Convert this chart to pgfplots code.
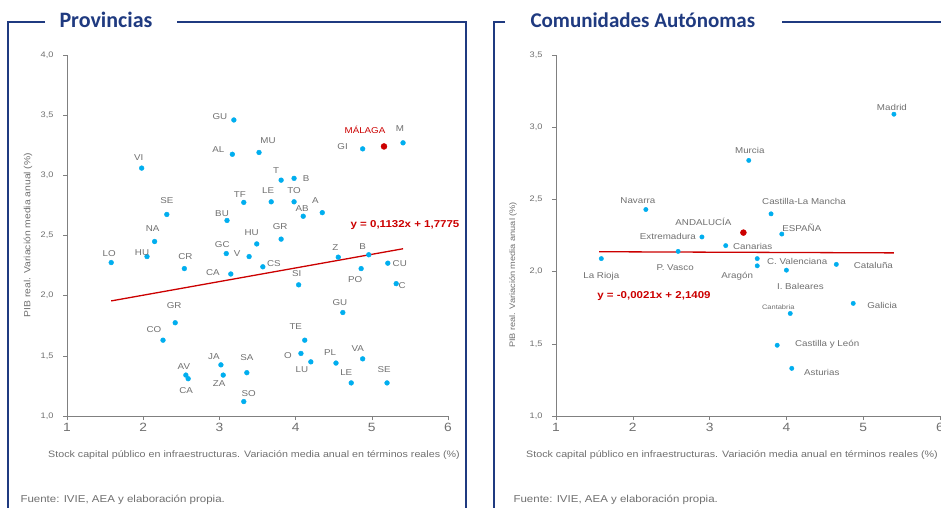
\documentclass[border=0pt]{standalone}
\usepackage{pgfplots}
\usepackage{pgfplotstable}
\pgfplotsset{compat=1.18}
\usepackage{fontspec}
\setmainfont{Liberation Sans}
\newfontfamily\labfont[FakeStretch=1.15]{Liberation Sans}
\newfontfamily\titlefont{Carlito}
\definecolor{navy}{HTML}{1F3A80}
\definecolor{ptcyan}{HTML}{00AEEF}
\definecolor{ptred}{HTML}{CC0000}
\definecolor{axgray}{HTML}{808080}
\definecolor{txgray}{HTML}{707070}

\pgfplotstableread[col sep=comma,row sep=\\]{
x,y,label,dx,dy\\
3.19,3.46,GU,-14,3\\
3.17,3.175,AL,-14,5\\
3.52,3.19,MU,9,12\\
1.98,3.06,VI,-3,11\\
4.88,3.22,GI,-20,2\\
5.41,3.27,M,-3,14\\
3.81,2.96,T,-5,10\\
3.98,2.975,B,12,0\\
3.32,2.775,TF,-4,8\\
3.68,2.78,LE,-3,11\\
3.98,2.78,TO,0,11\\
4.35,2.69,A,-7,12\\
4.10,2.66,AB,-1,8\\
3.10,2.625,BU,-5,7\\
2.31,2.675,SE,0,14\\
2.15,2.45,NA,-2,13\\
3.49,2.43,HU,-5,11\\
3.81,2.47,GR,-1,13\\
1.58,2.275,LO,-2,9\\
2.05,2.325,HU,-5,4\\
2.54,2.225,CR,1,12\\
3.09,2.35,GC,-4,9\\
3.39,2.325,V,-12,3\\
3.15,2.18,CA,-18,1\\
3.57,2.24,CS,11,3\\
4.04,2.09,SI,-2,11\\
4.56,2.32,Z,-3,10\\
4.96,2.34,B,-6,8\\
4.86,2.225,PO,-6,-11\\
5.21,2.27,CU,12,0\\
5.32,2.10,C,6,-2\\
4.62,1.86,GU,-3,10\\
4.12,1.63,TE,-9,14\\
4.07,1.52,O,-13,-2\\
4.20,1.45,LU,-9,-8\\
4.53,1.44,PL,-6,10\\
4.88,1.475,VA,-5,10\\
4.73,1.275,LE,-5,10\\
5.20,1.275,SE,-3,13\\
3.32,1.12,SO,5,8\\
3.36,1.36,SA,0,15\\
3.05,1.34,ZA,-4,-8\\
3.02,1.425,JA,-7,8\\
2.56,1.34,AV,-2,9\\
2.59,1.31,CA,-2,-12\\
2.26,1.63,CO,-9,11\\
2.42,1.775,GR,-1,17\\
}\provtable

\pgfplotstableread[col sep=comma,row sep=\\]{
x,y,label,dx,dy\\
5.16,3.24,MÁLAGA,-19,17\\
}\malaga

\pgfplotstableread[col sep=comma,row sep=\\]{
x,y,label,dx,dy\\
5.40,3.09,Madrid,-2,7\\
3.51,2.77,Murcia,1,10\\
2.17,2.43,Navarra,-8,9\\
3.80,2.40,Castilla-La Mancha,33,12\\
3.94,2.26,ESPAÑA,20,6\\
2.90,2.24,Extremadura,-34,0\\
3.21,2.18,Canarias,27,-1\\
2.59,2.14,P. Vasco,-3,-16\\
1.59,2.09,La Rioja,0,-18\\
3.62,2.04,Aragón,-20,-10\\
3.62,2.09,C. Valenciana,40,-3\\
4.00,2.01,I. Baleares,14,-16\\
4.65,2.05,Cataluña,37,-1\\
4.87,1.78,Galicia,29,-2\\
3.88,1.49,Castilla y León,50,1\\
4.07,1.33,Asturias,30,-4\\
}\ccaatable

\pgfplotstableread[col sep=comma,row sep=\\]{
x,y,label,dx,dy\\
4.05,1.71,Cantabria,-12,6\\
}\cantabria

\pgfplotstableread[col sep=comma,row sep=\\]{
x,y,label,dx,dy\\
3.44,2.27,ANDALUCÍA,-40,11\\
}\andalucia

\pgfplotsset{
  myax/.style={
    scale only axis, axis lines=left,
    axis line style={-, draw=axgray, line width=0.8pt},
    xmin=1, xmax=6, xtick={1,2,3,4,5,6}, enlargelimits=false,
    tick style={draw=axgray, line width=0.6pt}, major tick length=4pt, tick align=outside,
    /pgf/number format/assume math mode=true,
    xticklabel style={font=\labfont\fontsize{12}{12}\selectfont, text=txgray},
    yticklabel style={font=\labfont\fontsize{8}{8}\selectfont, text=txgray, xshift=-6pt,
      /pgf/number format/.cd, fixed, fixed zerofill, precision=1, use comma},
    clip=false,
  },
  lab/.style={only marks, mark=*, nodes near coords, point meta=explicit symbolic,
    visualization depends on={\thisrow{dx} \as \mydx},
    visualization depends on={\thisrow{dy} \as \mydy},
    every node near coord/.append style={anchor=center, inner sep=0pt,
      xshift=\mydx pt, yshift=\mydy pt, text=txgray}},
}

\begin{document}
\begin{tikzpicture}
\useasboundingbox (0,0) rectangle (941pt,507pt);
\fill[white] (0,0) rectangle (941pt,507pt);

% frames
\draw[navy, line width=1.8pt] (45pt,485pt) -- (8pt,485pt) -- (8pt,-5pt);
\draw[navy, line width=1.8pt] (177pt,485pt) -- (466pt,485pt) -- (466pt,-5pt);
\draw[navy, line width=1.8pt] (505pt,485pt) -- (494pt,485pt) -- (494pt,-5pt);
\draw[navy, line width=1.8pt] (782pt,485pt) -- (950pt,485pt);

\node[anchor=west, text=navy, font=\titlefont\bfseries\fontsize{22}{22}\selectfont] at (56pt,487pt) {Provincias};
\node[anchor=west, text=navy, font=\titlefont\bfseries\fontsize{21}{21}\selectfont] at (527pt,487pt) {Comunidades Autónomas};

% left axis
\begin{axis}[myax, at={(67pt,91pt)}, anchor=south west, width=381pt, height=361pt,
  ymin=1, ymax=4, ytick={1,1.5,2,2.5,3,3.5,4}]
\addplot[ptred, line width=1.3pt] coordinates {(1.58,1.9564) (5.41,2.3899)};
\addplot[lab, mark size=2.4pt, ptcyan, every node near coord/.append style={font=\labfont\fontsize{8.5}{8.5}\selectfont}]
  table[x=x, y=y, meta=label] {\provtable};
\addplot[lab, mark size=3pt, ptred, every node near coord/.append style={font=\labfont\fontsize{8.5}{8.5}\selectfont, text=ptred}]
  table[x=x, y=y, meta=label] {\malaga};
\end{axis}

% right axis
\begin{axis}[myax, at={(556pt,91pt)}, anchor=south west, width=384pt, height=361pt,
  ymin=1, ymax=3.5, ytick={1,1.5,2,2.5,3,3.5}]
\addplot[ptred, line width=1.3pt] coordinates {(1.56,2.1376) (5.40,2.1296)};
\addplot[lab, mark size=2.2pt, ptcyan, every node near coord/.append style={font=\labfont\fontsize{8.5}{8.5}\selectfont}]
  table[x=x, y=y, meta=label] {\ccaatable};
\addplot[lab, mark size=2.2pt, ptcyan, every node near coord/.append style={font=\labfont\fontsize{6.5}{6.5}\selectfont}]
  table[x=x, y=y, meta=label] {\cantabria};
\addplot[lab, mark size=3pt, ptred, every node near coord/.append style={font=\labfont\fontsize{8.5}{8.5}\selectfont}]
  table[x=x, y=y, meta=label] {\andalucia};
\end{axis}

% axis titles
\node[rotate=90, text=txgray, font=\labfont\fontsize{9}{9}\selectfont] at (28pt,272pt) {PIB real. Variación media anual (\%)};
\node[rotate=90, text=txgray, font=\labfont\fontsize{8}{8}\selectfont] at (513pt,232pt) {PIB real. Variación media anual (\%)};
\node[text=txgray, font=\labfont\fontsize{9.3}{9.3}\selectfont] at (254pt,52pt) {Stock capital público en infraestructuras. Variación media anual en términos reales (\%)};
\node[text=txgray, font=\labfont\fontsize{9.3}{9.3}\selectfont] at (732pt,52pt) {Stock capital público en infraestructuras. Variación media anual en términos reales (\%)};
\node[anchor=west, text=txgray, font=\labfont\fontsize{10}{10}\selectfont] at (17pt,7pt) {Fuente: IVIE, AEA y elaboración propia.};
\node[anchor=west, text=txgray, font=\labfont\fontsize{10}{10}\selectfont] at (510pt,7pt) {Fuente: IVIE, AEA y elaboración propia.};

% equations
\node[text=ptred, font=\labfont\bfseries\fontsize{10}{10}\selectfont] at (405pt,282pt) {y = 0,1132x + 1,7775};
\node[text=ptred, font=\labfont\bfseries\fontsize{10}{10}\selectfont] at (654pt,211pt) {y = -0,0021x + 2,1409};
\end{tikzpicture}
\end{document}
